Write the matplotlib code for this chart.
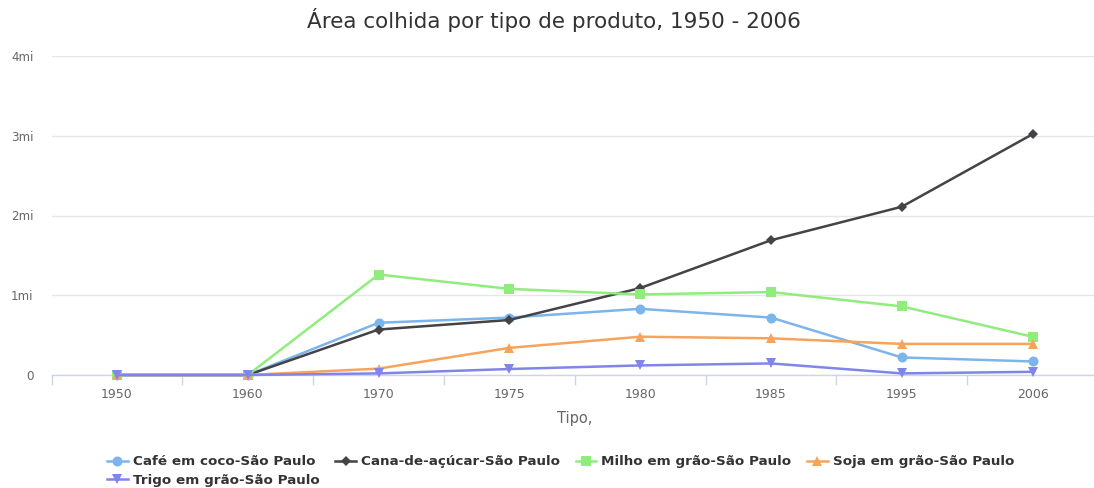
import matplotlib
matplotlib.use("Agg")
import matplotlib.pyplot as plt
from matplotlib.ticker import FuncFormatter, FixedLocator

plt.rcParams['font.family'] = ['DejaVu Sans']

anos = ["1950", "1960", "1970", "1975", "1980", "1985", "1995", "2006"]
cafe = [0, 0, 655000, 720000, 830000, 720000, 220000, 170000]
cana = [0, 0, 570000, 690000, 1090000, 1690000, 2110000, 3020000]
milho = [0, 0, 1260000, 1080000, 1010000, 1040000, 860000, 480000]
soja = [0, 0, 80000, 340000, 480000, 460000, 390000, 390000]
trigo = [0, 0, 20000, 75000, 120000, 145000, 20000, 40000]

series = [
    ("Café em coco-São Paulo", cafe, "#7cb5ec", "o", 7.2),
    ("Cana-de-açúcar-São Paulo", cana, "#434348", "D", 5.6),
    ("Milho em grão-São Paulo", milho, "#90ed7d", "s", 7.0),
    ("Soja em grão-São Paulo", soja, "#f7a35c", "^", 7.4),
    ("Trigo em grão-São Paulo", trigo, "#8085e9", "v", 7.4),
]

W, H = 1094, 488
fig = plt.figure(figsize=(W / 100, H / 100), dpi=100)
left, right, bottom_px, top_px = 51.6, 1098.0, 375, 56
ax = fig.add_axes([left / W, (H - bottom_px) / H, (right - left) / W, (bottom_px - top_px) / H])

x = list(range(len(anos)))
handles = []
for name, vals, col, mk, ms in series:
    h, = ax.plot(x, vals, color=col, lw=1.8, marker=mk, markersize=ms,
                 markeredgewidth=0, label=name, clip_on=False)
    handles.append(h)

ax.set_xlim(-0.5, len(anos) - 0.5)
ax.set_ylim(0, 4000000)
ax.set_yticks([0, 1000000, 2000000, 3000000, 4000000])

def fmt(v, pos):
    if v == 0:
        return "0"
    return "%dmi" % round(v / 1e6)

ax.yaxis.set_major_formatter(FuncFormatter(fmt))
ax.set_xticks(x)
ax.set_xticklabels(anos)
ax.xaxis.set_minor_locator(FixedLocator([i - 0.5 for i in range(len(anos) + 1)]))

ax.tick_params(axis='x', which='major', length=0, pad=9.5, labelsize=9, labelcolor="#666666")
ax.tick_params(axis='x', which='minor', length=7.5, width=1, color="#ccd6eb", direction='out')
ax.tick_params(axis='y', which='major', length=0, pad=13, labelsize=8.6, labelcolor="#666666")

ax.grid(axis='y', color="#e6e6e6", lw=1)
ax.set_axisbelow(True)
for s in ["top", "right", "left"]:
    ax.spines[s].set_visible(False)
ax.spines["bottom"].set_color("#ccd6eb")
ax.spines["bottom"].set_linewidth(1)
ax.spines["bottom"].set_zorder(0.5)

ax.set_xlabel("Tipo,", fontsize=10.5, color="#666666", labelpad=7)

fig.text(554 / W, 1 - 20 / H, "Área colhida por tipo de produto, 1950 - 2006",
         ha='center', va='center', fontsize=15.5, color="#333333")

order = [0, 4, 1, 2, 3]
leg = fig.legend([handles[i] for i in order], [series[i][0] for i in order],
                 loc='upper left', bbox_to_anchor=(102 / W, 1 - 450 / H), ncol=4,
                 frameon=False, handlelength=1.5, handletextpad=0.37,
                 columnspacing=1.2, labelspacing=0.4, borderaxespad=0,
                 prop={'weight': 'bold', 'size': 9.7})
for t in leg.get_texts():
    t.set_color("#333333")

fig.savefig("out.png", dpi=100)
